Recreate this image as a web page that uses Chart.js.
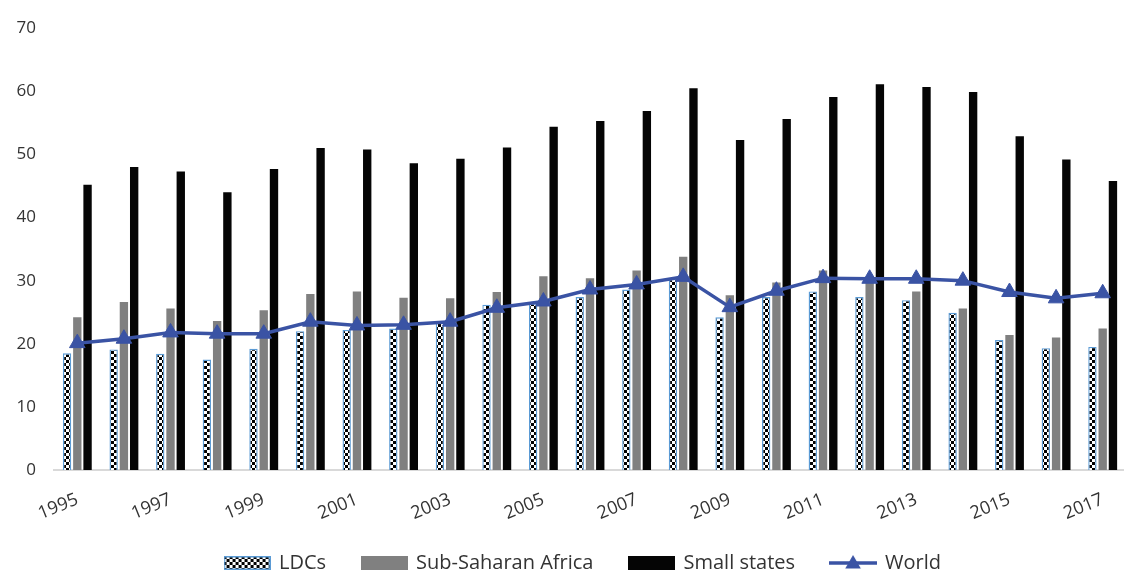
<!DOCTYPE html>
<html>
<head>
<meta charset="utf-8">
<script src="https://cdn.jsdelivr.net/npm/chart.js@4.4.1/dist/chart.umd.min.js"></script>
<style>
  html, body { margin: 0; padding: 0; background: #ffffff; overflow: hidden; }
  #wrap { position: relative; width: 1136px; height: 572px; }
</style>
</head>
<body>
<div id="wrap"><canvas id="chart"></canvas></div>
<script>
// Years on the category axis
const years = ['1995','1996','1997','1998','1999','2000','2001','2002','2003','2004','2005',
  '2006','2007','2008','2009','2010','2011','2012','2013','2014','2015','2016','2017'];

// Series values (per cent)
const ldcs = [18.5, 19.1, 18.4, 17.5, 19.2, 22.0, 22.2, 22.4, 23.4, 26.2, 26.4, 27.4,
  28.6, 30.3, 24.2, 27.4, 28.3, 27.4, 26.9, 24.9, 20.6, 19.3, 19.5];
const subSaharanAfrica = [24.2, 26.6, 25.6, 23.6, 25.3, 27.9, 28.3, 27.3, 27.2, 28.2, 30.7, 30.4,
  31.6, 33.8, 27.7, 29.7, 31.6, 30.0, 28.3, 25.6, 21.4, 21.0, 22.4];
const smallStates = [45.2, 48.0, 47.3, 44.0, 47.7, 51.0, 50.8, 48.6, 49.3, 51.1, 54.4, 55.3,
  56.9, 60.5, 52.3, 55.6, 59.1, 61.1, 60.7, 59.9, 52.9, 49.2, 45.8];
const world = [20.1, 20.8, 21.8, 21.6, 21.6, 23.5, 22.9, 23.0, 23.5, 25.7, 26.7, 28.6,
  29.4, 30.6, 25.8, 28.4, 30.4, 30.3, 30.3, 30.0, 28.2, 27.2, 28.0];

// Series names
const seriesNames = ['LDCs', 'Sub-Saharan Africa', 'Small states', 'World'];

const FONT = "'Open Sans', 'Noto Sans', sans-serif";
const TEXT = '#333333';
const BLUE = '#3A53A4';
const LDC_EDGE = '#5B9BD5';

// Black/white checkerboard fill used for the LDC bars
function checkerTile(cell) {
  const c = document.createElement('canvas');
  c.width = cell * 2; c.height = cell * 2;
  const g = c.getContext('2d');
  g.fillStyle = '#ffffff'; g.fillRect(0, 0, c.width, c.height);
  g.fillStyle = '#000000';
  g.fillRect(0, 0, cell, cell);
  g.fillRect(cell, cell, cell, cell);
  return c;
}
const checkerPattern = document.createElement('canvas').getContext('2d')
  .createPattern(checkerTile(3), 'repeat');

// Legend swatches
function swatch(w, h, draw) {
  const c = document.createElement('canvas');
  c.width = w; c.height = h;
  draw(c.getContext('2d'), w, h);
  return c;
}
const ldcSwatch = swatch(47, 14, (g, w, h) => {
  g.fillStyle = g.createPattern(checkerTile(3), 'repeat');
  g.fillRect(0, 0, w, h);
  g.strokeStyle = LDC_EDGE; g.lineWidth = 1.5;
  g.strokeRect(0.75, 0.75, w - 1.5, h - 1.5);
});
const ssaSwatch = swatch(47, 14, (g, w, h) => { g.fillStyle = '#808080'; g.fillRect(0, 0, w, h); });
const smallSwatch = swatch(47, 14, (g, w, h) => { g.fillStyle = '#050505'; g.fillRect(0, 0, w, h); });
const worldSwatch = swatch(48, 18, (g, w, h) => {
  g.strokeStyle = BLUE; g.lineWidth = 3.5;
  g.beginPath(); g.moveTo(0, h / 2); g.lineTo(w, h / 2); g.stroke();
  const r = 9, cx = w / 2, cy = h / 2 + 1;
  g.fillStyle = BLUE;
  g.beginPath();
  g.moveTo(cx, cy - r);
  g.lineTo(cx + r * Math.sin(2 * Math.PI / 3), cy - r * Math.cos(2 * Math.PI / 3));
  g.lineTo(cx + r * Math.sin(4 * Math.PI / 3), cy - r * Math.cos(4 * Math.PI / 3));
  g.closePath(); g.fill();
});
const swatches = [ldcSwatch, ssaSwatch, smallSwatch, worldSwatch];

// Places the legend row near the bottom edge, centred under the visible plot
const legendPlace = {
  id: 'legendPlace',
  afterLayout(chart) {
    const l = chart.legend;
    if (!l) return;
    const dy = 517 - l.top;
    l.top += dy; l.bottom += dy;
    l.left += 15; l.right += 15;
  }
};

const barCommon = { categoryPercentage: 0.66, barPercentage: 0.815, order: 1 };

new Chart(document.getElementById('chart'), {
  type: 'bar',
  data: {
    labels: years,
    datasets: [
      Object.assign({ label: seriesNames[0], data: ldcs, backgroundColor: checkerPattern,
        borderColor: LDC_EDGE, borderWidth: 1.4, borderSkipped: 'bottom' }, barCommon),
      Object.assign({ label: seriesNames[1], data: subSaharanAfrica, backgroundColor: '#808080',
        borderWidth: 0 }, barCommon),
      Object.assign({ label: seriesNames[2], data: smallStates, backgroundColor: '#050505',
        borderWidth: 0 }, barCommon),
      { type: 'line', label: seriesNames[3], data: world, order: 0,
        borderColor: BLUE, borderWidth: 3.5, tension: 0, fill: false,
        pointStyle: 'triangle', pointRadius: 9, pointHoverRadius: 9,
        pointBackgroundColor: BLUE, pointBorderColor: BLUE, pointBorderWidth: 1 }
    ]
  },
  options: {
    responsive: true,
    maintainAspectRatio: false,
    devicePixelRatio: 1,
    animation: false,
    layout: { padding: { top: 25, left: 0, right: 0, bottom: -14 } },
    plugins: {
      tooltip: { enabled: false },
      legend: {
        position: 'bottom',
        labels: {
          usePointStyle: true,
          pointStyleWidth: 44,
          padding: 36,
          color: TEXT,
          font: { family: FONT, size: 20 },
          generateLabels: () => seriesNames.map((name, i) => ({
            text: name, datasetIndex: i, pointStyle: swatches[i],
            fillStyle: 'transparent', strokeStyle: 'transparent', lineWidth: 0,
            hidden: false, fontColor: TEXT
          }))
        }
      }
    },
    scales: {
      x: {
        grid: { display: false, drawTicks: false },
        border: { display: true, color: '#d9d9d9', width: 2 },
        ticks: {
          autoSkip: false,
          minRotation: 22, maxRotation: 22,
          padding: 19,
          color: TEXT,
          font: { family: FONT, size: 18 },
          callback: function (value, index) {
            return index % 2 === 0 ? this.getLabelForValue(value) : '';
          }
        },
        afterFit: (scale) => { scale.height = 50; }
      },
      y: {
        min: 0, max: 70,
        grid: { display: false, drawTicks: false },
        border: { display: false },
        ticks: {
          stepSize: 10,
          padding: 18,
          color: TEXT,
          font: { family: FONT, size: 17 }
        },
        afterFit: (scale) => { scale.width = 54; }
      }
    }
  },
  plugins: [legendPlace]
});
</script>
</body>
</html>
